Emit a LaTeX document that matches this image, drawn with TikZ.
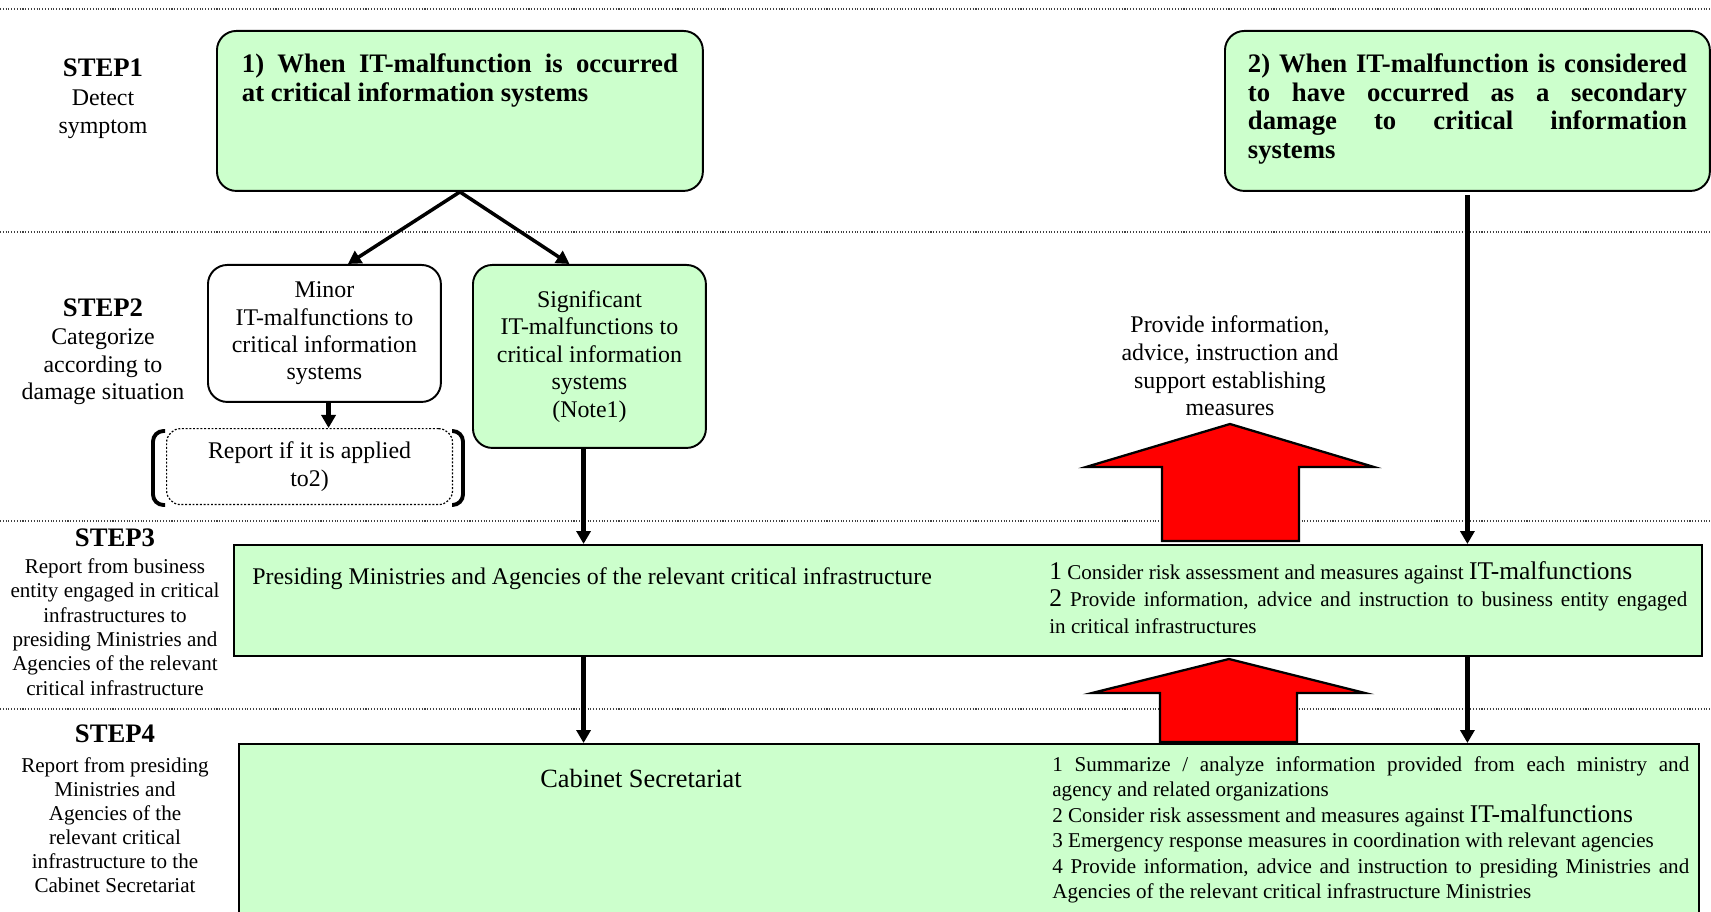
\documentclass[tikz,border=0pt]{standalone}
\usepackage{fontspec}
\setmainfont{Liberation Serif}
\usetikzlibrary{arrows.meta,positioning,calc}

\definecolor{boxgreen}{HTML}{CCFFCC}

\newcommand{\titlefont}{\fontsize{15.2}{16.4}\selectfont\bfseries
  \spaceskip=0.25em plus 0.8em\relax\hyphenpenalty=10000\relax}
\newcommand{\stepfont}{\fontsize{15.2}{16}\selectfont\bfseries}
\newcommand{\bodyfont}{\fontsize{13.6}{15.6}\selectfont}
\newcommand{\notefont}{\fontsize{12}{13.7}\selectfont}
\newcommand{\largeit}[1]{{\fontsize{14.5}{14.5}\selectfont #1}}

\tikzset{
  flow/.style={->, line width=2pt},
  drop/.style={->, line width=2.6pt},
  sepline/.style={densely dotted, line width=0.6pt, black!75},
  roundbox/.style={draw, line width=1.1pt, rounded corners=11pt, align=center, font=\bodyfont},
  greenbox/.style={roundbox, fill=boxgreen},
  stepbox/.style={draw, line width=1.1pt, fill=boxgreen, anchor=north west},
  steplabel/.style={align=center, font=\bodyfont},
  bigarrow/.style={fill=red, draw=black, line width=1.3pt},
  bracket/.style={line width=2.2pt, rounded corners=6pt},
}

\begin{document}
\begin{tikzpicture}[>={Triangle[length=7.4pt,width=8pt]}, x=0.02cm, y=-0.02cm]
  \useasboundingbox (0,0) rectangle (1711,912);

  % separators between the steps
  \foreach \y in {9,232,521,709}
    \draw[sepline] (0,\y) -- (1711,\y);

  % step labels
  \node[steplabel, font=\fontsize{13.6}{16.2}\selectfont] (step1) at (103,99)
    {{\stepfont STEP1}\\Detect\\symptom};
  \node[steplabel, font=\fontsize{13.6}{15.8}\selectfont] (step2) at (103,352)
    {{\stepfont STEP2}\\Categorize\\according to\\damage situation};
  \node[steplabel, font=\fontsize{12}{13.9}\selectfont] (step3) at (115,612)
    {{\stepfont STEP3}\\[1.6pt]Report from business\\entity engaged in critical\\infrastructures to\\presiding Ministries and\\Agencies of the relevant\\critical infrastructure};
  \node[steplabel, font=\notefont] (step4) at (115,809)
    {{\stepfont STEP4}\\[3pt]Report from presiding\\Ministries and\\Agencies of the\\relevant critical\\infrastructure to the\\Cabinet Secretariat};

  % STEP1 boxes
  \node[greenbox, anchor=north west, inner xsep=0.5cm, inner ysep=0.45cm] (detect) at (216,30)
    {\parbox[t][2.3cm][t]{8.72cm}{\titlefont 1) When IT-malfunction is occurred at critical information systems}};
  \node[greenbox, anchor=north west, inner xsep=0.46cm, inner ysep=0.45cm] (secondary) at (1224,30)
    {\parbox[t][2.3cm][t]{8.78cm}{\titlefont 2) When IT-malfunction is considered to have occurred as a secondary damage to critical information systems}};

  % STEP2 boxes
  \node[roundbox, fill=white, anchor=north west, minimum width=4.66cm, minimum height=2.74cm] (minor) at (207,264)
    {Minor\\IT-malfunctions to\\critical information\\systems};
  \node[greenbox, anchor=north west, minimum width=4.66cm, minimum height=3.66cm] (signif) at (472,264)
    {Significant\\IT-malfunctions to\\critical information\\systems\\(Note1)};
  \node[roundbox, densely dotted, line width=0.7pt, rounded corners=8pt, anchor=north west,
        minimum width=5.72cm, minimum height=1.52cm, font=\fontsize{13.6}{16.4}\selectfont] (report) at (166,428)
    {Report if it is applied\\to2)};
  \draw[bracket] (165,431) -- (153,431) -- (153,505) -- (165,505);
  \draw[bracket] (452,431) -- (463,431) -- (463,505) -- (452,505);

  \node[steplabel, font=\fontsize{13.6}{15.7}\selectfont] (provide) at (1230,366)
    {Provide information,\\advice, instruction and\\support establishing\\measures};

  % STEP3
  \node[stepbox, minimum width=29.36cm, minimum height=2.22cm] (ministries) at (233,544) {};
  \node[anchor=west, font=\bodyfont, inner sep=0pt] (ministitle) at ($(ministries.north west)+(19,35)$)
    {Presiding Ministries and Agencies of the relevant critical infrastructure};
  \node[anchor=north west, text width=12.76cm, align=justify, font=\fontsize{12}{15.4}\selectfont, inner sep=0pt] (ministduty) at (1049,561)
    {\largeit{1} Consider risk assessment and measures against \largeit{IT-malfunctions}\\
     \largeit{2} Provide information, advice and instruction to business entity engaged\linebreak in critical infrastructures};

  % STEP4
  \node[stepbox, minimum width=29.2cm, minimum height=4cm] (cabinet) at (238,743) {};
  \node[font=\fontsize{15}{17}\selectfont, inner sep=0pt] (cabtitle) at ($(cabinet.north west)+(403,35)$) {Cabinet Secretariat};
  \node[anchor=north west, text width=12.74cm, align=justify, font=\fontsize{12}{14.5}\selectfont, inner sep=0pt] (cabduty) at (1052,756)
    {1 Summarize / analyze information provided from each ministry and\linebreak agency and related organizations\\
     2 Consider risk assessment and measures against \largeit{IT-malfunctions}\\
     3 Emergency response measures in coordination with relevant agencies\\
     4 Provide information, advice and instruction to presiding Ministries and\linebreak Agencies of the relevant critical infrastructure Ministries};

  % feedback arrows
  \filldraw[bigarrow] (1230,424) -- (1374,467) -- (1299,467) -- (1299,541) -- (1162,541)
    -- (1162,467) -- (1086,467) -- cycle;
  \filldraw[bigarrow] (1229,659) -- (1365,693) -- (1297,693) -- (1297,742) -- (1160,742)
    -- (1160,693) -- (1092,693) -- cycle;

  % reporting flow
  \coordinate (minorout) at ($(minor.south)!0.035!(minor.south east)$);
  \coordinate (signifout) at ($(signif.south)!0.05!(signif.south west)$);
  \draw[flow] (detect.south) -- ($(minor.north)!0.2!(minor.north east)$);
  \draw[flow] (detect.south) -- ($(signif.north)!0.17!(signif.north west)$);
  \draw[drop] (minorout) -- (minorout |- report.north);
  \draw[drop] (signifout) -- (signifout |- ministries.north);
  \draw[drop] (signifout |- ministries.south) -- (signifout |- cabinet.north);
  \draw[drop] ([yshift=-2pt]secondary.south) -- (secondary.south |- ministries.north);
  \draw[drop] (secondary.south |- ministries.south) -- (secondary.south |- cabinet.north);
\end{tikzpicture}
\end{document}
